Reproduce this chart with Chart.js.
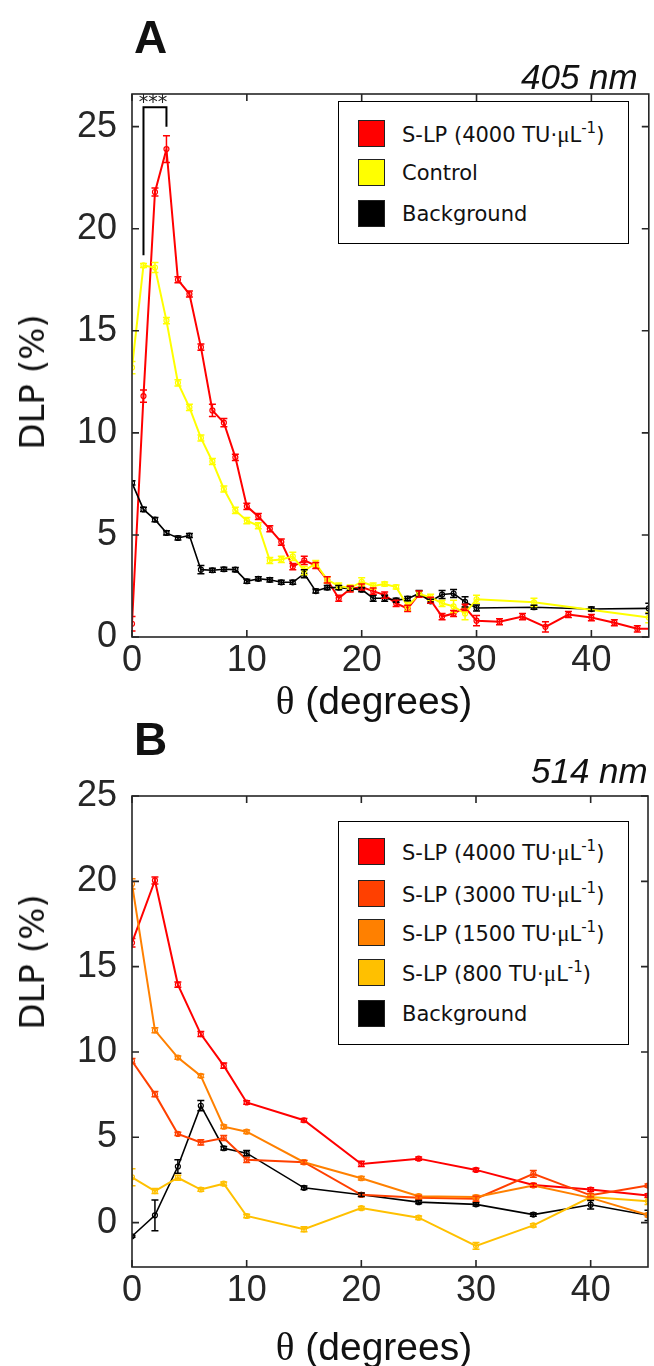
<!DOCTYPE html>
<html>
<head>
<meta charset="utf-8">
<script src="https://cdn.jsdelivr.net/npm/chart.js@4.4.1/dist/chart.umd.min.js"></script>
<style>
  body { margin: 0; background: #fff; width: 654px; height: 1366px; position: relative; overflow: hidden; font-family: "Liberation Sans", Arial, sans-serif; }
  canvas { position: absolute; left: 0; }
  #chartA { top: 0; }
  #chartB { top: 720px; }
  .lbl { position: absolute; color: #111; white-space: nowrap; }
  .panel { font-weight: bold; font-size: 46px; line-height: 1; }
  .nm { font-style: italic; font-size: 35px; line-height: 1; transform: translateY(-50%); }
  .ytitle { font-family: "DejaVu Sans", Verdana, sans-serif; font-size: 34px; transform: translate(-50%, -50%) rotate(-90deg); }
  .xtitle { font-size: 39px; transform: translate(-50%, -50%); }
  .xtitle .th { font-family: "Liberation Serif", serif; }
  .legend { position: absolute; border: 1.5px solid #000; background: #fff; box-sizing: border-box; font-family: "DejaVu Sans", Verdana, sans-serif; font-size: 21px; color: #111; }
  .row { position: absolute; left: 19px; height: 27px; display: flex; align-items: center; }
  .sw { width: 27px; height: 27px; border: 1.5px solid #222; box-sizing: border-box; margin-right: 17px; }
  .mu { font-family: "Liberation Serif", serif; font-size: 23px; }
  sup { font-size: 15px; vertical-align: 9px; }
</style>
</head>
<body>
<canvas id="chartA" width="654" height="720"></canvas>
<canvas id="chartB" width="654" height="646"></canvas>

<div class="lbl panel" style="left:134px; top:14px;">A</div>
<div class="lbl nm" style="left:521px; top:76px;">405 nm</div>
<div class="lbl panel" style="left:134px; top:716px;">B</div>
<div class="lbl nm" style="left:531px; top:770px;">514 nm</div>

<div class="lbl ytitle" style="left:32px; top:382px;">DLP (%)</div>
<div class="lbl ytitle" style="left:32px; top:962px;">DLP (%)</div>
<div class="lbl xtitle" style="left:374px; top:700px;"><span class="th">θ</span> (degrees)</div>
<div class="lbl xtitle" style="left:374px; top:1346px;"><span class="th">θ</span> (degrees)</div>

<div id="legendA" class="legend" style="left:338px; top:101px; width:291px; height:143px;"></div>
<div id="legendB" class="legend" style="left:338px; top:821px; width:291px; height:224px;"></div>

<script>
// ---- Panel A : 405 nm ----
const thetaA_slp = [0, 1, 2, 3, 4, 5, 6, 7, 8, 9, 10, 11, 12, 13, 14, 15, 16, 17, 18, 19, 20, 21, 22, 23, 24, 25, 26, 27, 28, 29, 30, 32, 34, 36, 38, 40, 42, 44, 46];
const dlpA_slp = [0.65, 11.8, 21.8, 23.9, 17.5, 16.8, 14.2, 11.1, 10.5, 8.8, 6.4, 5.9, 5.3, 4.65, 3.45, 3.75, 3.5, 2.8, 1.9, 2.35, 2.45, 2.25, 2.05, 1.65, 1.4, 2.1, 1.8, 1.0, 1.15, 1.45, 0.8, 0.75, 1.0, 0.5, 1.1, 0.95, 0.7, 0.4, 0.4];
const errA_slp = [0.35, 0.3, 0.2, 0.65, 0.15, 0.15, 0.15, 0.3, 0.2, 0.15, 0.15, 0.15, 0.15, 0.15, 0.15, 0.2, 0.15, 0.15, 0.15, 0.15, 0.15, 0.15, 0.15, 0.15, 0.15, 0.15, 0.15, 0.15, 0.15, 0.15, 0.25, 0.15, 0.15, 0.25, 0.15, 0.15, 0.15, 0.15, 0.15];

const thetaA_ctrl = [0, 1, 2, 3, 4, 5, 6, 7, 8, 9, 10, 11, 12, 13, 14, 15, 16, 17, 18, 19, 20, 21, 22, 23, 24, 25, 26, 27, 28, 29, 30, 35, 45];
const dlpA_ctrl = [13.2, 18.2, 18.1, 15.5, 12.45, 11.25, 9.75, 8.6, 7.25, 6.2, 5.7, 5.45, 3.75, 3.8, 3.95, 3.25, 3.6, 2.8, 2.5, 2.4, 2.7, 2.5, 2.6, 2.45, 1.5, 2.1, 1.95, 1.65, 1.5, 1.15, 1.85, 1.7, 0.95];
const errA_ctrl = [0.3, 0.1, 0.25, 0.15, 0.15, 0.15, 0.15, 0.15, 0.15, 0.15, 0.15, 0.15, 0.15, 0.15, 0.2, 0.2, 0.15, 0.15, 0.15, 0.15, 0.2, 0.15, 0.1, 0.1, 0.2, 0.15, 0.15, 0.15, 0.3, 0.3, 0.2, 0.2, 0.25];

const thetaA_bg = [0, 1, 2, 3, 4, 5, 6, 7, 8, 9, 10, 11, 12, 13, 14, 15, 16, 17, 18, 19, 20, 21, 22, 23, 24, 25, 26, 27, 28, 29, 30, 35, 40, 45];
const dlpA_bg = [7.55, 6.25, 5.75, 5.1, 4.85, 4.97, 3.3, 3.27, 3.32, 3.3, 2.73, 2.85, 2.8, 2.68, 2.68, 3.1, 2.25, 2.42, 2.42, 2.37, 2.32, 1.9, 1.9, 1.8, 1.88, 2.13, 1.75, 2.08, 2.13, 1.72, 1.42, 1.46, 1.37, 1.4];
const errA_bg = [0.1, 0.1, 0.1, 0.1, 0.1, 0.1, 0.2, 0.1, 0.1, 0.1, 0.1, 0.1, 0.1, 0.1, 0.1, 0.2, 0.1, 0.1, 0.1, 0.1, 0.1, 0.15, 0.15, 0.1, 0.1, 0.15, 0.1, 0.2, 0.2, 0.25, 0.15, 0.1, 0.1, 0.25];

// ---- Panel B : 514 nm ----
const thetaB = [0, 2, 4, 6, 8, 10, 15, 20, 25, 30, 35, 40, 45];
const dlpB_4000 = [16.4, 20.05, 13.95, 11.05, 9.2, 7.04, 6.0, 3.44, 3.75, 3.09, 2.2, 1.94, 1.59];
const errB_4000 = [0.25, 0.2, 0.15, 0.15, 0.15, 0.1, 0.1, 0.15, 0.1, 0.1, 0.1, 0.1, 0.1];
const dlpB_3000 = [9.47, 7.53, 5.2, 4.7, 4.96, 3.68, 3.54, 1.63, 1.46, 1.4, 2.86, 1.6, 2.17];
const errB_3000 = [0.15, 0.15, 0.1, 0.15, 0.15, 0.15, 0.1, 0.1, 0.1, 0.15, 0.2, 0.1, 0.1];
const dlpB_1500 = [19.85, 11.27, 9.67, 8.6, 5.62, 5.33, 3.54, 2.6, 1.55, 1.5, 2.18, 1.45, 0.45];
const errB_1500 = [0.3, 0.15, 0.1, 0.1, 0.1, 0.1, 0.1, 0.1, 0.1, 0.1, 0.1, 0.1, 0.1];
const dlpB_800 = [2.66, 1.85, 2.63, 1.94, 2.28, 0.39, -0.39, 0.85, 0.29, -1.36, -0.16, 1.5, 1.26];
const errB_800 = [0.5, 0.15, 0.15, 0.1, 0.1, 0.1, 0.15, 0.1, 0.1, 0.2, 0.1, 0.1, 0.2];
const dlpB_bg = [-0.8, 0.43, 3.29, 6.85, 4.36, 4.07, 2.04, 1.63, 1.2, 1.07, 0.47, 1.05, 0.43];
const errB_bg = [0.05, 0.9, 0.4, 0.3, 0.1, 0.15, 0.1, 0.1, 0.1, 0.1, 0.1, 0.25, 0.3];

// tick labels
const xTicks = [0, 10, 20, 30, 40];
const yTicks = [0, 5, 10, 15, 20, 25];

// significance bracket in A (data units)
const sigX = [1, 3];
const sigLegY = [18.7, 25.0];
const sigTopY = 25.95;
const sigText = "***";

const legendA = [
  { color: "#ff0000", html: 'S-LP (4000 TU·<span class="mu">μ</span>L<sup>-1</sup>)' },
  { color: "#ffff00", html: "Control" },
  { color: "#000000", html: "Background" }
];
const legendB = [
  { color: "#ff0000", html: 'S-LP (4000 TU·<span class="mu">μ</span>L<sup>-1</sup>)' },
  { color: "#ff4000", html: 'S-LP (3000 TU·<span class="mu">μ</span>L<sup>-1</sup>)' },
  { color: "#ff8000", html: 'S-LP (1500 TU·<span class="mu">μ</span>L<sup>-1</sup>)' },
  { color: "#ffc000", html: 'S-LP (800 TU·<span class="mu">μ</span>L<sup>-1</sup>)' },
  { color: "#000000", html: "Background" }
];

const tickFont = { family: "'Liberation Sans', Arial", size: 36 };

function pts(xs, ys) {
  return xs.map((x, i) => ({ x: x, y: ys[i] }));
}

function serie(xs, ys, errs, color, width) {
  return {
    data: pts(xs, ys),
    errors: errs,
    borderColor: color,
    backgroundColor: "rgba(255,255,255,0)",
    borderWidth: width || 2,
    pointRadius: 2.5,
    pointBorderWidth: 1.2,
    pointBorderColor: color,
    tension: 0
  };
}

// error bars drawn with the y scale
const errorBars = {
  id: "errorBars",
  afterDatasetsDraw(chart) {
    const { ctx, chartArea: a, scales } = chart;
    ctx.save();
    ctx.beginPath();
    ctx.rect(a.left, a.top, a.width, a.height);
    ctx.clip();
    chart.data.datasets.forEach((ds, i) => {
      const meta = chart.getDatasetMeta(i);
      ctx.strokeStyle = ds.borderColor;
      ctx.lineWidth = 1.5;
      meta.data.forEach((p, j) => {
        const v = ds.data[j].y, e = ds.errors[j];
        const t = scales.y.getPixelForValue(v + e);
        const b = scales.y.getPixelForValue(v - e);
        ctx.beginPath();
        ctx.moveTo(p.x, t); ctx.lineTo(p.x, b);
        ctx.moveTo(p.x - 3.5, t); ctx.lineTo(p.x + 3.5, t);
        ctx.moveTo(p.x - 3.5, b); ctx.lineTo(p.x + 3.5, b);
        ctx.stroke();
      });
    });
    ctx.restore();
  }
};

// matlab style box with inward ticks
const boxTicks = {
  id: "boxTicks",
  afterDraw(chart) {
    const { ctx, chartArea: a, scales: { x, y } } = chart;
    ctx.save();
    ctx.strokeStyle = "#262626";
    ctx.lineWidth = 1.6;
    ctx.strokeRect(a.left, a.top, a.width, a.height);
    ctx.beginPath();
    x.ticks.forEach(t => {
      const px = x.getPixelForValue(t.value);
      ctx.moveTo(px, a.bottom); ctx.lineTo(px, a.bottom - 7);
      ctx.moveTo(px, a.top); ctx.lineTo(px, a.top + 7);
    });
    y.ticks.forEach(t => {
      const py = y.getPixelForValue(t.value);
      ctx.moveTo(a.left, py); ctx.lineTo(a.left + 7, py);
      ctx.moveTo(a.right, py); ctx.lineTo(a.right - 7, py);
    });
    ctx.stroke();
    ctx.restore();
  }
};

const bracket = {
  id: "bracket",
  afterDraw(chart) {
    if (!chart.options.plugins.bracket.show) return;
    const { ctx, scales: { x, y } } = chart;
    const x1 = x.getPixelForValue(sigX[0]), x2 = x.getPixelForValue(sigX[1]);
    const yt = y.getPixelForValue(sigTopY);
    ctx.save();
    ctx.strokeStyle = "#000";
    ctx.lineWidth = 2;
    ctx.beginPath();
    ctx.moveTo(x1, y.getPixelForValue(sigLegY[0]));
    ctx.lineTo(x1, yt);
    ctx.lineTo(x2, yt);
    ctx.lineTo(x2, y.getPixelForValue(sigLegY[1]));
    ctx.stroke();
    ctx.fillStyle = "#222";
    ctx.font = "19px 'DejaVu Sans'";
    ctx.textAlign = "center";
    ctx.textBaseline = "alphabetic";
    ctx.fillText(sigText, (x1 + x2) / 2 - 2, yt + 1);
    ctx.restore();
  }
};

function makeChart(id, datasets, yMin, yMax, plotTop, plotBottom, plotRight, showBracket) {
  const c = document.getElementById(id);
  return new Chart(c.getContext("2d"), {
    type: "line",
    data: { datasets: datasets },
    options: {
      responsive: false,
      animation: false,
      devicePixelRatio: 1,
      layout: { padding: { top: plotTop, right: 654 - plotRight, left: 0, bottom: 0 } },
      plugins: { legend: { display: false }, tooltip: { enabled: false }, bracket: { show: showBracket } },
      scales: {
        x: {
          type: "linear", min: 0, max: 45,
          afterBuildTicks: s => { s.ticks = xTicks.map(v => ({ value: v })); },
          afterFit: s => { s.height = c.height - plotBottom; },
          grid: { display: false, drawTicks: false },
          border: { display: false },
          ticks: { padding: 2, color: "#262626", font: tickFont, maxRotation: 0 }
        },
        y: {
          type: "linear", min: yMin, max: yMax,
          afterBuildTicks: s => { s.ticks = yTicks.map(v => ({ value: v })); },
          afterFit: s => { s.width = 132; },
          grid: { display: false, drawTicks: false },
          border: { display: false },
          ticks: { padding: 15, color: "#262626", font: tickFont }
        }
      }
    },
    plugins: [errorBars, boxTicks, bracket]
  });
}

makeChart("chartA", [
  serie(thetaA_ctrl, dlpA_ctrl, errA_ctrl, "#ffff00"),
  serie(thetaA_bg, dlpA_bg, errA_bg, "#000000", 1.6),
  serie(thetaA_slp, dlpA_slp, errA_slp, "#ff0000")
], 0, 26.6, 94, 637, 650, true);

makeChart("chartB", [
  serie(thetaB, dlpB_800, errB_800, "#ffc000"),
  serie(thetaB, dlpB_1500, errB_1500, "#ff8000"),
  serie(thetaB, dlpB_3000, errB_3000, "#ff4000"),
  serie(thetaB, dlpB_4000, errB_4000, "#ff0000"),
  serie(thetaB, dlpB_bg, errB_bg, "#000000", 1.6)
], -2.6, 25, 76, 547, 648, false);

function buildLegend(el, items, tops) {
  items.forEach((it, i) => {
    const r = document.createElement("div");
    r.className = "row";
    r.style.top = tops[i] + "px";
    r.innerHTML = '<div class="sw" style="background:' + it.color + '"></div><span>' + it.html + "</span>";
    el.appendChild(r);
  });
}
buildLegend(document.getElementById("legendA"), legendA, [18, 57, 98]);
buildLegend(document.getElementById("legendB"), legendB, [16, 58, 97, 137, 178]);
</script>
</body>
</html>
